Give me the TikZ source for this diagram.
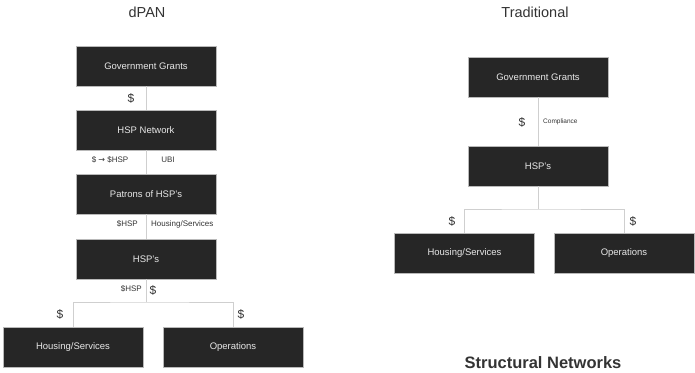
\documentclass[tikz,border=0pt]{standalone}
\usepackage{fontspec}
\setmainfont{Liberation Sans}
\newfontfamily\arrowfont{DejaVu Sans}
\definecolor{boxfill}{HTML}{262626}
\definecolor{boxtext}{HTML}{E8E8E8}
\definecolor{wire}{HTML}{CFCFCF}
\definecolor{labeltext}{HTML}{333333}
\tikzset{
  block/.style={draw=gray!55, line width=0.5pt, fill=boxfill, text=boxtext,
    minimum width=140pt, minimum height=40pt, inner sep=0pt,
    font=\fontsize{9.5}{11}\selectfont},
  link/.style={draw=wire, line width=1pt},
  tag/.style={text=labeltext, inner sep=0pt, font=\fontsize{8}{9}\selectfont},
  dollar/.style={text=labeltext, inner sep=0pt, font=\fontsize{12}{13}\selectfont},
  title/.style={text=labeltext, inner sep=0pt, font=\fontsize{14.5}{16}\selectfont},
}
\begin{document}
\begin{tikzpicture}[x=1pt, y=-1pt]
\useasboundingbox (0,0) rectangle (695,372);

% dPAN column
\node[title] (t1) at (147,12) {dPAN};
\node[block] (gg1) at (146,66) {Government Grants};
\node[block] (net) at (146,130) {HSP Network};
\node[block] (pat) at (146,194) {Patrons of HSP’s};
\node[block] (hsp1) at (146,259) {HSP’s};
\node[block] (hs1) at (73,347) {Housing/Services};
\node[block] (op1) at (233,347) {Operations};

\draw[link] (gg1.south) -- (net.north);
\draw[link] (net.south) -- (pat.north);
\draw[link] (pat.south) -- (hsp1.north);
\coordinate (j1) at (146,302);
\draw[link] (hsp1.south) -- (j1);
\draw[link] (hs1.north) |- (j1) -| (op1.north);

\node[dollar] (d1) at (131,98) {\$};
\node[tag] (conv) at (110,160) {\$ {\arrowfont →} \$HSP};
\node[tag] (ubi) at (168,160) {UBI};
\node[tag, anchor=east] (hspa) at (138,224) {\$HSP};
\node[tag, anchor=west] (hsv) at (151,224) {Housing/Services};
\node[tag, anchor=east] (hspb) at (142,289) {\$HSP};
\node[dollar] (d2) at (153,290) {\$};
\node[dollar] (d3) at (60,314) {\$};
\node[dollar] (d4) at (241,314) {\$};

% Traditional column
\node[title] (t2) at (535,12) {Traditional};
\node[block] (gg2) at (538,77) {Government Grants};
\node[block] (hsp2) at (538,166) {HSP’s};
\node[block] (hs2) at (464.5,253) {Housing/Services};
\node[block] (op2) at (624,253) {Operations};

\draw[link] (gg2.south) -- (hsp2.north);
\coordinate (j2) at (538,209);
\draw[link] (hsp2.south) -- (j2);
\draw[link] (hs2.north) |- (j2) -| (op2.north);

\node[dollar] (d5) at (522,122) {\$};
\node[tag, anchor=west, font=\fontsize{6.5}{7}\selectfont] (comp) at (543,122) {Compliance};
\node[dollar] (d6) at (452,221) {\$};
\node[dollar] (d7) at (633,221) {\$};

\node[title, font=\bfseries\fontsize{16.5}{18}\selectfont] (t3) at (543,363) {Structural Networks};
\end{tikzpicture}
\end{document}
